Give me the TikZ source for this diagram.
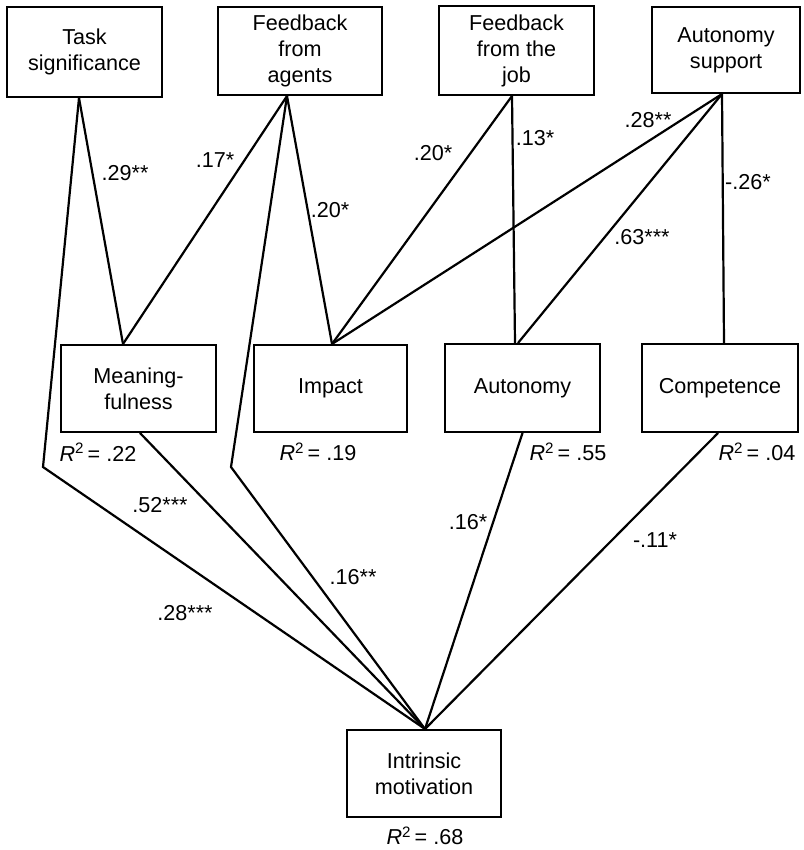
\documentclass[tikz,border=0pt]{standalone}
\usepackage{fontspec}
\setmainfont{Liberation Sans}
\usepackage{tikz}
\tikzstyle{bx}=[draw, line width=2pt, minimum width=155pt, minimum height=88pt, inner sep=0pt, align=center]
\tikzstyle{cf}=[inner sep=0pt]
\tikzstyle{pth}=[line width=2.2pt]
\newcommand{\rsq}[1]{\textit{R}\textsuperscript{2}\,= #1}

\begin{document}
\begin{tikzpicture}[x=1pt, y=-1pt, font=\fontsize{21.6}{26}\selectfont]
  \useasboundingbox (0,0) rectangle (803,850);
  % top row
  \node[bx, minimum height=90pt] (tasksig) at (84.5,52) {Task\\significance};
  \node[bx, minimum width=164pt] (fbagents) at (300,51) {Feedback\\from\\agents};
  \node[bx, minimum height=89pt] (fbjob) at (516.5,50.5) {Feedback\\from the\\job};
  \node[bx, minimum width=148pt, minimum height=86pt] (autsup) at (726,50) {Autonomy\\support};
  % middle row
  \node[bx, minimum height=87pt] (meaning) at (138.5,388.5) {Meaning-\\fulness};
  \node[bx, minimum width=153pt, minimum height=87pt] (impact) at (330.5,388.5) {Impact};
  \node[bx] (autonomy) at (522.5,388) {Autonomy};
  \node[bx, minimum width=156pt] (competence) at (720,388) {Competence};
  % outcome
  \node[bx, minimum width=154pt, minimum height=87pt] (intr) at (424,773.5) {Intrinsic\\motivation};

  \coordinate (bendts) at (43,467);
  \coordinate (bendfa) at (231,467);

  % paths
  \draw[pth] ([xshift=-5.5pt]tasksig.south) -- ([xshift=-15.5pt]meaning.north);
  \draw[pth] ([xshift=-5.5pt]tasksig.south) -- (bendts) -- ([xshift=1pt]intr.north);
  \draw[pth] ([xshift=-13pt]fbagents.south) -- ([xshift=-15.5pt]meaning.north);
  \draw[pth] ([xshift=-13pt]fbagents.south) -- ([xshift=1.5pt]impact.north);
  \draw[pth] ([xshift=-13pt]fbagents.south) -- (bendfa) -- ([xshift=1pt]intr.north);
  \draw[pth] ([xshift=-4.5pt]fbjob.south) -- ([xshift=1.5pt]impact.north);
  \draw[pth] ([xshift=-4.5pt]fbjob.south) -- ([xshift=-7.5pt]autonomy.north);
  \draw[pth] ([xshift=-4pt]autsup.south) -- ([xshift=1.5pt]impact.north);
  \draw[pth] ([xshift=-4pt]autsup.south) -- ([xshift=-4.5pt]autonomy.north);
  \draw[pth] ([xshift=-4pt]autsup.south) -- ([xshift=4pt]competence.north);
  \draw[pth] ([xshift=1.5pt]meaning.south) -- ([xshift=1pt]intr.north);
  \draw[pth] (autonomy.south) -- ([xshift=1pt]intr.north);
  \draw[pth] ([xshift=-2pt]competence.south) -- ([xshift=1pt]intr.north);

  % coefficients
  \node[cf] (c1) at (125,173) {.29**};
  \node[cf] (c2) at (215,160) {.17*};
  \node[cf] (c3) at (330,210) {.20*};
  \node[cf] (c4) at (433,153) {.20*};
  \node[cf] (c5) at (535,138) {.13*};
  \node[cf] (c6) at (648,120) {.28**};
  \node[cf] (c7) at (748,182) {-.26*};
  \node[cf] (c8) at (642,237) {.63***};
  \node[cf] (c9) at (160,505) {.52***};
  \node[cf] (c10) at (185,613) {.28***};
  \node[cf] (c11) at (353,577) {.16**};
  \node[cf] (c12) at (468,522) {.16*};
  \node[cf] (c13) at (655,540) {-.11*};

  % explained variance
  \node[cf] (r1) at (98,452) {\rsq{.22}};
  \node[cf] (r2) at (318,452) {\rsq{.19}};
  \node[cf] (r3) at (568,452) {\rsq{.55}};
  \node[cf] (r4) at (757,452) {\rsq{.04}};
  \node[cf] (r5) at (425,836) {\rsq{.68}};
\end{tikzpicture}
\end{document}
